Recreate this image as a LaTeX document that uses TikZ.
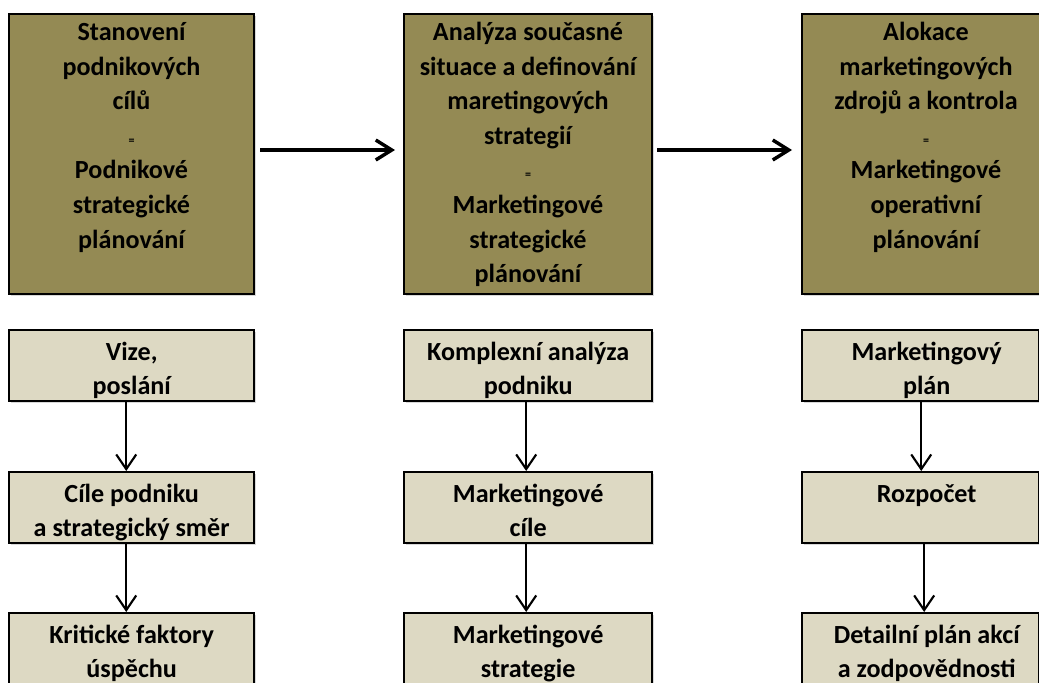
\documentclass[tikz,border=0pt]{standalone}
\usepackage{fontspec}
\setmainfont{Carlito}
\usetikzlibrary{arrows.meta,shadows}
\definecolor{topfill}{HTML}{948A54}
\definecolor{subfill}{HTML}{DDD9C3}
\newcommand{\bigtxt}[2]{\parbox[c][210pt][t]{#1}{\centering\fontsize{19.6}{25.9}\selectfont\bfseries\vspace*{2pt}\strut #2}}
\newcommand{\smtxt}[3]{\parbox[c][53.25pt][t]{#1}{\centering\leftskip=#2 plus 1fil\fontsize{19.6}{25.9}\selectfont\bfseries\vspace*{4.4pt}\strut #3}}
\newcommand{\eqsign}{{\fontsize{9}{9}\selectfont =}}
\tikzset{
  bigbox/.style={draw=black, line width=1.5pt, fill=topfill, inner sep=0pt, anchor=north west,
    drop shadow={shadow xshift=1.2pt, shadow yshift=-1.2pt, opacity=0.3}},
  subbox/.style={draw=black, line width=1.8pt, fill=subfill, inner sep=0pt, anchor=north west,
    drop shadow={shadow xshift=1.2pt, shadow yshift=-1.2pt, opacity=0.3}},
  harrow/.style={line width=2.6pt, -{Straight Barb[length=12pt,width=15pt]}},
  varrow/.style={line width=1.6pt, -{Straight Barb[length=11pt,width=15pt]}}
}
\begin{document}
\begin{tikzpicture}[x=0.75pt,y=-0.75pt]
\clip (0,0) rectangle (1039,682);
\fill[white] (0,0) rectangle (1039,682);
% top boxes
\node[bigbox] (t1) at (8,13) {\bigtxt{183.75pt}{Stanovení\\podnikových\\cílů\\\eqsign\\Podnikové\\strategické\\plánování}};
\node[bigbox] (t2) at (403,13) {\bigtxt{186pt}{Analýza současné\\situace a definování\\maretingových\\strategií\\\eqsign\\Marketingové\\strategické\\plánování}};
\node[bigbox] (t3) at (801,13) {\bigtxt{186pt}{Alokace\\marketingových\\zdrojů a kontrola\\\eqsign\\Marketingové\\operativní\\plánování}};
% column 1
\node[subbox] (a1) at (8,329) {\smtxt{183.75pt}{0pt}{Vize,\\poslání}};
\node[subbox] (a2) at (8,471) {\smtxt{183.75pt}{0pt}{Cíle podniku\\a strategický směr}};
\node[subbox] (a3) at (8,612) {\smtxt{183.75pt}{0pt}{Kritické faktory\\úspěchu}};
% column 2
\node[subbox] (b1) at (403,329) {\smtxt{186pt}{0pt}{Komplexní analýza\\podniku}};
\node[subbox] (b2) at (403,471) {\smtxt{186pt}{0pt}{Marketingové\\cíle}};
\node[subbox] (b3) at (403,612) {\smtxt{186pt}{0pt}{Marketingové\\strategie}};
% column 3
\node[subbox] (c1) at (801,329) {\smtxt{177.75pt}{9pt}{Marketingový\\plán}};
\node[subbox] (c2) at (801,471) {\smtxt{177.75pt}{9pt}{Rozpočet}};
\node[subbox] (c3) at (801,612) {\smtxt{177.75pt}{9pt}{Detailní plán akcí\\a zodpovědnosti}};
% horizontal arrows
\draw[harrow, shorten <=3.75pt, shorten >=6pt] ([yshift=3pt]t1.east) -- ([yshift=3pt]t2.west);
\draw[harrow, shorten <=3pt, shorten >=6.75pt] ([yshift=3pt]t2.east) -- ([yshift=3pt]t3.west);
% vertical arrows
\draw[varrow] ([xshift=-4.1pt]a1.south) -- ([xshift=-4.1pt]a2.north);
\draw[varrow] ([xshift=-4.1pt]a2.south) -- ([xshift=-4.1pt]a3.north);
\draw[varrow] ([xshift=-1.5pt]b1.south) -- ([xshift=-1.5pt]b2.north);
\draw[varrow] ([xshift=-1.5pt]b2.south) -- ([xshift=-1.5pt]b3.north);
\draw[varrow] ([xshift=0.4pt]c1.south) -- ([xshift=0.4pt]c2.north);
\draw[varrow] ([xshift=2.6pt]c2.south) -- ([xshift=2.6pt]c3.north);
\end{tikzpicture}
\end{document}
